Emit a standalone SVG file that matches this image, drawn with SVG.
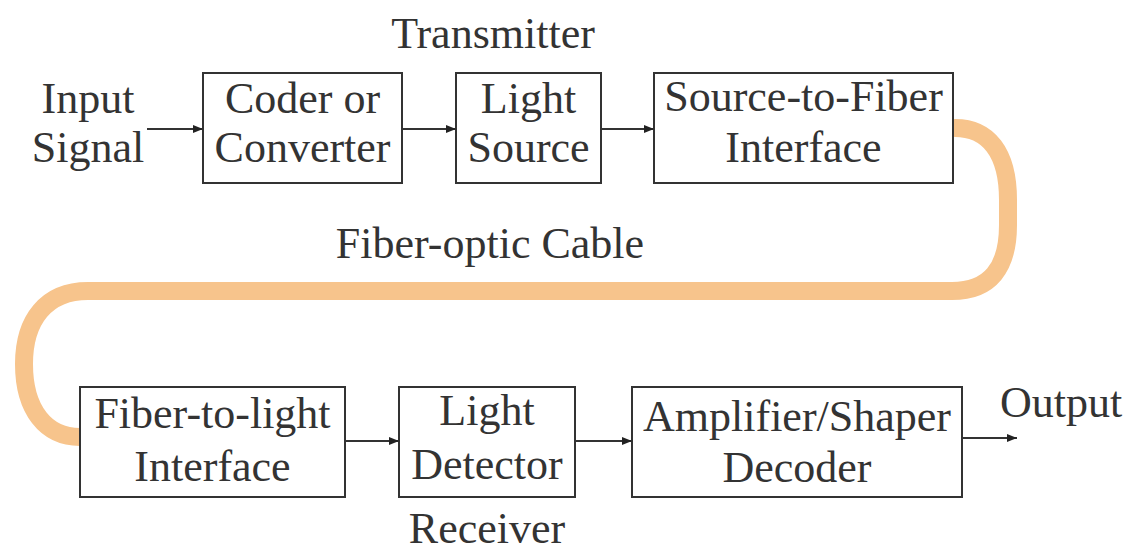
<svg xmlns="http://www.w3.org/2000/svg" width="1124" height="555" viewBox="0 0 1124 555">
<style>
.box{fill:#fff;stroke:#333;stroke-width:2}
.t{font-family:"Liberation Serif","Times New Roman",serif;font-size:44px;fill:#333;text-anchor:middle}
.c{fill:none;stroke:#333;stroke-width:2}
.cable{fill:none;stroke:#F7C48C;stroke-width:18;stroke-linecap:round}
</style>
<defs>
<marker id="ah" viewBox="0 0 10 10" refX="10" refY="5" markerWidth="10" markerHeight="10" markerUnits="userSpaceOnUse" orient="auto">
<path d="M0,1 L10,5 L0,9 z" fill="#222"/>
</marker>
</defs>
<rect width="1124" height="555" fill="#fff"/>
<g id="cable">
<path class="cable" d="M955,128 C988,128 1008,152 1008,200 L1008,225 C1008,268 990,291 952,291 L88,291 C46,291 24,320 24,364 C24,410 46,437 80,437"/>
</g>
<g id="labels">
<text class="t" x="493" y="48">Transmitter</text>
<text class="t" x="88" y="113">Input</text>
<text class="t" x="88" y="162">Signal</text>
<text class="t" x="490" y="258">Fiber-optic Cable</text>
<text class="t" x="487" y="543">Receiver</text>
<text class="t" x="1000" y="417" style="text-anchor:start">Output</text>
</g>
<g id="coder">
<rect class="box" x="203" y="73" width="199" height="110"/>
<text class="t" x="302.5" y="113">Coder or</text>
<text class="t" x="302.5" y="162">Converter</text>
</g>
<g id="lightsource">
<rect class="box" x="456" y="73" width="145" height="110"/>
<text class="t" x="528.5" y="113">Light</text>
<text class="t" x="528.5" y="162">Source</text>
</g>
<g id="sourcefiber">
<rect class="box" x="654" y="73" width="299" height="110"/>
<text class="t" x="803.5" y="111">Source-to-Fiber</text>
<text class="t" x="803.5" y="162">Interface</text>
</g>
<g id="fiberlight">
<rect class="box" x="80" y="387" width="265" height="110"/>
<text class="t" x="212.5" y="428">Fiber-to-light</text>
<text class="t" x="212.5" y="481">Interface</text>
</g>
<g id="detector">
<rect class="box" x="399" y="387" width="176" height="110"/>
<text class="t" x="487" y="425">Light</text>
<text class="t" x="487" y="479">Detector</text>
</g>
<g id="amplifier">
<rect class="box" x="632" y="387" width="330" height="110"/>
<text class="t" x="797" y="431">Amplifier/Shaper</text>
<text class="t" x="797" y="482">Decoder</text>
</g>
<g id="connectors">
<line class="c" x1="147" y1="129" x2="203" y2="129" marker-end="url(#ah)"/>
<line class="c" x1="402" y1="129" x2="456" y2="129" marker-end="url(#ah)"/>
<line class="c" x1="601" y1="129" x2="654" y2="129" marker-end="url(#ah)"/>
<line class="c" x1="345" y1="441" x2="399" y2="441" marker-end="url(#ah)"/>
<line class="c" x1="575" y1="441" x2="632" y2="441" marker-end="url(#ah)"/>
<line class="c" x1="962" y1="438" x2="1017" y2="438" marker-end="url(#ah)"/>
</g>
</svg>
